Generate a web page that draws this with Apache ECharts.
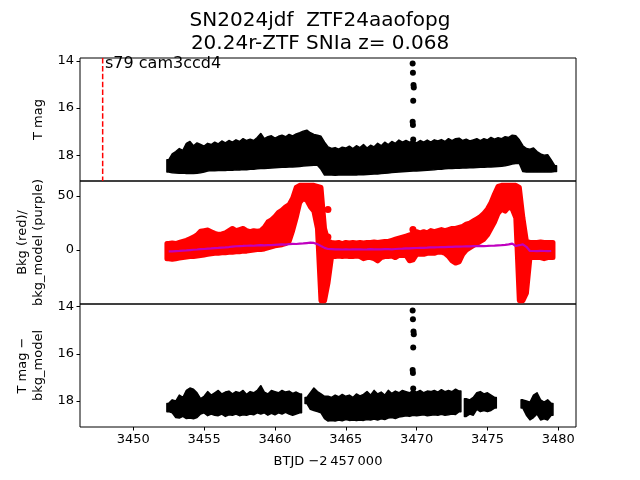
<!DOCTYPE html>
<html>
<head>
<meta charset="utf-8">
<script src="https://cdn.jsdelivr.net/npm/echarts@6/dist/echarts.min.js"></script>
<style>
  html, body { margin: 0; background: #fff; }
  #chart { width: 640px; height: 480px; }
</style>
</head>
<body>
<div id="chart"></div>
<script>
// time grid (BTJD - 2457000), one bin every 0.25 d
const days = [
  3452.5, 3452.75, 3453, 3453.25, 3453.5, 3453.75, 3454, 3454.25, 3454.5, 3454.75,
  3455, 3455.25, 3455.5, 3455.75, 3456, 3456.25, 3456.5, 3456.75, 3457, 3457.25,
  3457.5, 3457.75, 3458, 3458.25, 3458.5, 3458.75, 3459, 3459.25, 3459.5, 3459.75,
  3460, 3460.25, 3460.5, 3460.75, 3461, 3461.25, 3461.5, 3461.75, 3462, 3462.25,
  3462.5, 3462.75, 3463, 3463.25, 3463.5, 3463.75, 3464, 3464.25, 3464.5, 3464.75,
  3465, 3465.25, 3465.5, 3465.75, 3466, 3466.25, 3466.5, 3466.75, 3467, 3467.25,
  3467.5, 3467.75, 3468, 3468.25, 3468.5, 3468.75, 3469, 3469.25, 3469.5, 3469.75,
  3470, 3470.25, 3470.5, 3470.75, 3471, 3471.25, 3471.5, 3471.75, 3472, 3472.25,
  3472.5, 3472.75, 3473, 3473.25, 3473.5, 3473.75, 3474, 3474.25, 3474.5, 3474.75,
  3475, 3475.25, 3475.5, 3475.75, 3476, 3476.25, 3476.5, 3476.75, 3477, 3477.25,
  3477.5, 3477.75, 3478, 3478.25, 3478.5, 3478.75, 3479, 3479.25, 3479.5, 3479.75
];

// T mag: upper / lower edge of the points in each bin
const magTop = [
  18.2, 17.95, 17.85, 17.72, 17.8, 17.5, 17.42, 17.6, 17.48, 17.55,
  17.62, 17.5, 17.55, 17.45, 17.52, 17.4, 17.48, 17.38, 17.45, 17.35,
  17.42, 17.3, 17.38, 17.32, 17.38, 17.25, 17.08, 17.3, 17.22, 17.18,
  17.28, 17.2, 17.15, 17.22, 17.12, 17.18, 17.1, 17.05, 16.98, 16.94,
  17.05, 17.12, 17.15, 17.2, 17.45, 17.65, 17.72, 17.68, 17.75, 17.66,
  17.7, 17.62, 17.72, 17.6, 17.68, 17.55, 17.7, 17.58, 17.65, 17.5,
  17.6, 17.45, 17.55, 17.42, 17.5, 17.36, 17.45, 17.38, 17.45, 17.4,
  17.48, 17.38, 17.45, 17.36, 17.45, 17.35, 17.4, 17.34, 17.42, 17.3,
  17.38, 17.3, 17.28, 17.38, 17.32, 17.4, 17.35, 17.3, 17.38, 17.3,
  17.35, 17.25, 17.32, 17.26, 17.3, 17.22, 17.25, 17.15, 17.18, 17.35,
  17.6, 17.72, 17.75, 17.7, 17.85, 17.95, 18.0, 17.98, 18.2, 18.45
];
const magBot = [
  18.72, 18.75, 18.76, 18.77, 18.76, 18.78, 18.77, 18.78, 18.77, 18.75,
  18.72, 18.68, 18.65, 18.66, 18.65, 18.64, 18.65, 18.63, 18.64, 18.62,
  18.63, 18.61, 18.62, 18.6, 18.6, 18.58, 18.57, 18.57, 18.56, 18.55,
  18.54, 18.53, 18.52, 18.52, 18.51, 18.5, 18.49, 18.48, 18.46, 18.45,
  18.44, 18.43, 18.43, 18.6, 18.85, 18.84, 18.85, 18.86, 18.85, 18.84,
  18.85, 18.84, 18.83, 18.84, 18.82, 18.83, 18.82, 18.81, 18.8, 18.8,
  18.78, 18.77, 18.76, 18.74, 18.73, 18.72, 18.71, 18.7, 18.69, 18.68,
  18.67, 18.66, 18.65, 18.64, 18.63, 18.62, 18.6, 18.6, 18.58, 18.57,
  18.57, 18.56, 18.56, 18.55, 18.55, 18.54, 18.54, 18.53, 18.52, 18.52,
  18.5, 18.5, 18.49, 18.48, 18.47, 18.45, 18.42, 18.38, 18.36, 18.35,
  18.7, 18.72, 18.72, 18.71, 18.72, 18.71, 18.72, 18.71, 18.72, 18.7
];

// background flux (red): upper / lower edge per bin
const bkgTop = [
  6, 6.5, 6, 7, 8, 9, 10.5, 12, 14, 17.5,
  18, 18.5, 17, 15.5, 14.5, 15, 16, 18, 20, 18,
  19, 20, 18, 17, 18, 17.5, 18, 21, 26, 28,
  31, 35, 37, 40, 42, 48, 58, 60, 60, 60,
  60, 60, 59, 58, 20, 8, 7, 6.5, 7, 6,
  7, 6.5, 7, 6.5, 7, 6.5, 7, 7, 7.5, 7,
  7.5, 8, 8, 9, 10, 11, 12, 13, 14, 15,
  17, 16, 17, 16, 18, 17, 18, 19, 18, 19,
  20, 20, 21, 22, 24, 25, 27, 29, 31, 34,
  38, 44, 52, 59, 60, 60, 60, 60, 60, 58,
  30, 8, 7, 7, 7, 7.5, 7, 7, 7, null
];
const bkgBot = [
  -8, -8.5, -8, -7.5, -7, -6.5, -6, -6, -5.5, -5,
  -4.5, -4, -3.5, -3, -3, -2.5, -2.5, -2, -2, -1.5,
  -1.5, -1, -1, -0.5, 0, 0.5, 0.5, 1, 2, 3,
  4, 4.5, 5, 6, 8, 18, 30, 44, 48, 46,
  40, 36, 20, -47, -47, -30, -6, -6, -5.5, -6,
  -5.5, -6, -6, -5.5, -6, -8, -7, -7, -8, -10,
  -7, -6, -6, -5.5, -7, -5, -5, -5, -10, -9,
  -4, -4, -4, -3, -3, -3, -2, -2, -3, -6,
  -10, -12, -11, -4, 0, 2, 4, 6, 8, 10,
  14, 20, 26, 34, 38, 36, 40, 38, 30, -47,
  -47, -40, -7, -7, -7, -7, -8, -7, -7, null
];
// bkg_model (purple)
const bkgModel = [
  -1.2, -1.2, -1, -0.8, -0.5, -0.3, 0, 0.3, 0.5, 0.8,
  1, 1.3, 1.5, 1.8, 2, 2.3, 2.5, 2.8, 3.2, 3.5,
  3.7, 3.8, 4, 4.2, 4, 4.3, 4.5, 4.4, 4.6, 4.5,
  4.8, 5, 5.2, 5.1, 5.5, 5.8, 5.6, 6, 6.2, 6.5,
  6.8, 6.6, 5.5, 3.7, 2, 1, 0.8, 0.6, 0.7, 0.5,
  0.6, 0.5, 0.7, 0.6, 0.6, 0.5, 0.6, 0.8, 0.7, 0.6,
  0.7, 0.9, 0.8, 0.7, 1, 1.2, 1.3, 1.5, 1.6, 1.8,
  1.9, 2, 2.1, 2.2, 2.4, 2.5, 2.6, 2.7, 2.8, 2.9,
  3, 3.1, 3.1, 3.3, 3.4, 3.5, 3.6, 3.7, 3.8, 3.7,
  3.8, 4, 4.1, 4.3, 4.5, 4.8, 5.2, 5.9, 3.8, 4.5,
  5.3, 3, -0.9, -0.9, -1, -0.8, -0.9, -1, -0.9, null
];
const bkgOutDays = [3463.74, 3463.74, 3469.74];
const bkgOutVals = [37.7, 12, 19];

// T mag - bkg_model: edges per bin (null = no data)
const corrTop = [
  18.1, 17.95, 18.0, 17.75, 17.85, 17.55, 17.45, 17.5, 17.65, 17.9,
  17.8, 17.6, 17.75, 17.65, 17.55, 17.7, 17.62, 17.58, 17.7, 17.6,
  17.65, 17.55, 17.72, 17.6, 17.65, 17.55, 17.35, 17.62, 17.7, 17.55,
  17.6, 17.65, 17.55, 17.62, 17.58, 17.68, 17.62, 17.7, null, 17.85,
  17.65, 17.45, 17.6, 17.7, 17.8, 17.8, 17.85, 17.75, 17.82, 17.72,
  17.8, 17.75, 17.85, 17.7, 17.78, 17.72, 17.6, 17.75, 17.55, 17.7,
  17.62, 17.75, 17.55, 17.68, 17.58, 17.65, 17.55, 17.6, 17.65, 17.55,
  17.62, 17.55, 17.65, 17.58, 17.6, 17.55, 17.62, 17.52, 17.6, 17.55,
  17.6, 17.5, 17.58, null, 17.9, 17.95, 17.85, 17.65, 17.6, 17.7,
  17.65, 17.75, 17.85, null, null, null, null, null, null, null,
  17.95, 18.0, 18.05, 17.75, 17.65, 17.95, 18.05, 17.95, 18.1, null
];
const corrBot = [
  18.45, 18.5, 18.7, 18.72, 18.65, 18.74, 18.72, 18.75, 18.7, 18.55,
  18.5, 18.62, 18.55, 18.6, 18.62, 18.55, 18.65, 18.58, 18.6, 18.55,
  18.62, 18.58, 18.6, 18.55, 18.58, 18.5, 18.55, 18.5, 18.6, 18.52,
  18.58, 18.5, 18.55, 18.48, 18.55, 18.6, 18.55, 18.5, null, 18.1,
  18.35, 18.4, 18.45, 18.5, 18.75, 18.85, 18.82, 18.85, 18.8, 18.84,
  18.78, 18.82, 18.8, 18.83, 18.8, 18.82, 18.78, 18.8, 18.76, 18.8,
  18.75, 18.78, 18.72, 18.7, 18.74, 18.68, 18.66, 18.62, 18.65, 18.6,
  18.62, 18.6, 18.58, 18.62, 18.6, 18.58, 18.6, 18.56, 18.6, 18.58,
  18.55, 18.57, 18.45, null, 18.65, 18.55, 18.6, 18.35, 18.45, 18.4,
  18.45, 18.4, 18.3, null, null, null, null, null, null, null,
  18.3, 18.6, 18.8, 18.7, 18.55, 18.8, 18.75, 18.8, 18.6, null
];

// the bright points near 3469.8
const flareDays = [3469.72, 3469.74, 3469.78, 3469.8, 3469.76, 3469.72, 3469.74, 3469.76];
const flareMag = [14.1, 14.5, 15.02, 15.12, 15.69, 16.58, 16.72, 17.34];
const flareCorr = [14.17, 14.54, 15.06, 15.17, 15.73, 16.69, 16.81, 17.47];

const vlineDay = 3447.84;
const xTicks = [3450, 3455, 3460, 3465, 3470, 3475, 3480];
const magTicks = [14, 16, 18];
const bkgTicks = [0, 50];

const FONT = "DejaVu Sans";
const STEP = days[1] - days[0];

// split the bins into runs without gaps
function runs(top, bot) {
  const out = [];
  let cur = null;
  days.forEach((d, i) => {
    if (top[i] == null || bot[i] == null) { cur = null; return; }
    if (!cur) { cur = []; out.push(cur); }
    cur.push(i);
  });
  return out;
}

// one polygon per run: upper edge left->right, lower edge back
function bandSeries(axis, top, bot, color, lw) {
  const segs = runs(top, bot);
  return {
    type: "custom", xAxisIndex: axis, yAxisIndex: axis, clip: true, silent: true,
    data: segs.map((s) => [days[s[0]], top[s[0]]]),
    renderItem: function (params, api) {
      const s = segs[params.dataIndex];
      const pts = [];
      const first = s[0], last = s[s.length - 1];
      pts.push(api.coord([days[first] - STEP / 2, top[first]]));
      s.forEach((i) => pts.push(api.coord([days[i], top[i]])));
      pts.push(api.coord([days[last] + STEP / 2, top[last]]));
      pts.push(api.coord([days[last] + STEP / 2, bot[last]]));
      for (let k = s.length - 1; k >= 0; k--) pts.push(api.coord([days[s[k]], bot[s[k]]]));
      pts.push(api.coord([days[first] - STEP / 2, bot[first]]));
      return {
        type: "polygon",
        shape: { points: pts },
        style: { fill: color, stroke: color, lineWidth: lw, lineJoin: "round" },
      };
    },
  };
}

const grids = [58, 181, 304].map((top) => ({
  left: 80, top: top, width: 496, height: 123,
  show: true, borderColor: "#000", borderWidth: 1, backgroundColor: "transparent",
}));

function xAx(i) {
  const last = i === 2;
  return {
    type: "value", gridIndex: i, min: 3446.24, max: 3481.25,
    axisLine: { show: false }, splitLine: { show: false },
    axisTick: { show: last, customValues: xTicks, length: 3.5, lineStyle: { color: "#000" } },
    axisLabel: { show: last, customValues: xTicks, color: "#000", fontSize: 13, fontFamily: FONT, margin: 6,
      formatter: (v) => String(v) },
    name: last ? "BTJD \u22122\u2009457\u2009000" : "",
    nameLocation: "middle", nameGap: 28,
    nameTextStyle: { color: "#000", fontSize: 13, fontFamily: FONT },
  };
}

function yAx(i, min, max, ticks, inverse) {
  return {
    type: "value", gridIndex: i, min: min, max: max, inverse: inverse,
    axisLine: { show: false }, splitLine: { show: false },
    axisTick: { show: true, customValues: ticks, length: 3.5, lineStyle: { color: "#000" } },
    axisLabel: { customValues: ticks, color: "#000", fontSize: 13, fontFamily: FONT, margin: 6,
      formatter: (v) => String(v) },
  };
}

const option = {
  animation: false,
  backgroundColor: "#fff",
  title: {
    text: "SN2024jdf  ZTF24aaofopg\n20.24r-ZTF SNIa z= 0.068",
    left: "center", top: 9, padding: 0,
    textStyle: { fontFamily: FONT, fontSize: 20, fontWeight: "normal", lineHeight: 23, color: "#000" },
  },
  grid: grids,
  xAxis: [xAx(0), xAx(1), xAx(2)],
  yAxis: [
    yAx(0, 13.87, 19.1, magTicks, true),
    yAx(1, -50, 64, bkgTicks, false),
    yAx(2, 13.89, 19.1, magTicks, true),
  ],
  graphic: [
    { type: "text", x: 39, y: 119.5, rotation: Math.PI / 2,
      style: { text: "T mag", font: "13px " + FONT, fill: "#000", align: "center", verticalAlign: "middle" } },
    { type: "text", x: 31, y: 242.5, rotation: Math.PI / 2,
      style: { text: "Bkg (red)/\nbkg_model (purple)", font: "13px " + FONT, lineHeight: 16, fill: "#000", align: "center", verticalAlign: "middle" } },
    { type: "text", x: 31, y: 365.5, rotation: Math.PI / 2,
      style: { text: "T mag \u2212\nbkg_model", font: "13px " + FONT, lineHeight: 16, fill: "#000", align: "center", verticalAlign: "middle" } },
    { type: "text", x: 105, y: 56,
      style: { text: "s79 cam3ccd4", font: "16px " + FONT, fill: "#000", align: "left", verticalAlign: "top" } },
  ],
  series: [
    // panel 1: T mag
    bandSeries(0, magTop, magBot, "#000", 1.5),
    { type: "scatter", xAxisIndex: 0, yAxisIndex: 0, symbolSize: 6, itemStyle: { color: "#000", opacity: 1 },
      data: flareDays.map((d, i) => [d, flareMag[i]]) },
    { type: "line", xAxisIndex: 0, yAxisIndex: 0, symbol: "none",
      lineStyle: { color: "#ff0000", width: 1.5, type: [5.5, 2.4] },
      data: [[vlineDay, 13.87], [vlineDay, 19.1]] },
    // panel 2: background
    bandSeries(1, bkgTop, bkgBot, "#ff0000", 5),
    { type: "scatter", xAxisIndex: 1, yAxisIndex: 1, symbolSize: 7, itemStyle: { color: "#ff0000", opacity: 1 },
      data: bkgOutDays.map((d, i) => [d, bkgOutVals[i]]) },
    { type: "line", xAxisIndex: 1, yAxisIndex: 1, symbol: "none", z: 5,
      lineStyle: { color: "#bf00bf", width: 2.2 },
      data: days.map((d, i) => [d, bkgModel[i]]) },
    // panel 3: T mag - bkg_model
    bandSeries(2, corrTop, corrBot, "#000", 1.5),
    { type: "scatter", xAxisIndex: 2, yAxisIndex: 2, symbolSize: 6, itemStyle: { color: "#000", opacity: 1 },
      data: flareDays.map((d, i) => [d, flareCorr[i]]) },
  ],
};

const chart = echarts.init(document.getElementById("chart"));
chart.setOption(option);
</script>
</body>
</html>
